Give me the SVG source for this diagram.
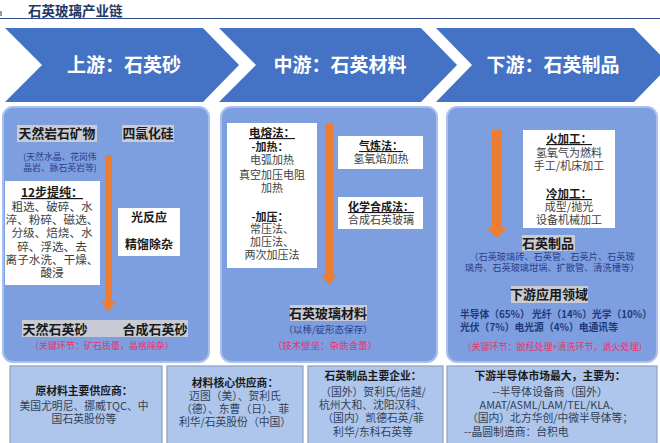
<svg xmlns="http://www.w3.org/2000/svg" width="660" height="443" viewBox="0 0 660 443">
<defs>
<style>
text{font-family:"Noto Sans CJK SC","Noto Sans",sans-serif;}
.title{font-size:13.5px;font-weight:bold;fill:#1F3864;}
.chev{fill:#4472C4;}
.chevt{font-size:19px;font-weight:bold;fill:#ffffff;text-anchor:middle;}
.panel{fill:#7D9EDF;stroke:#A9BFEC;stroke-width:2;}
.wbox{fill:#ffffff;}
.hl{fill:#C9CCD5;}
.t{font-size:11.6px;fill:#404040;text-anchor:middle;}
.t2{font-size:11px;fill:#404040;text-anchor:middle;}
.h{font-size:12px;font-weight:bold;fill:#1a1a1a;text-anchor:middle;}
.u{text-decoration:underline;}
.navy{font-size:8.8px;fill:#2B3F8C;text-anchor:middle;}
.red{font-size:9px;fill:#E8336B;text-anchor:middle;}
.list{font-size:10.5px;font-weight:bold;fill:#1F3A7A;}
.bot{fill:#AEC6EB;stroke:#8EA0BE;stroke-width:1.2;}
.bt{font-size:10.8px;fill:#333f55;text-anchor:middle;}
.btb{font-size:10.8px;font-weight:bold;fill:#1a1a1a;text-anchor:middle;}
.arrow{fill:#ED7D31;}
</style>
</defs>
<rect width="660" height="443" fill="#ffffff"/>
<g id="header">
<rect x="0" y="11" width="2" height="5" fill="#999999"/>
<text class="title" x="28" y="16">石英玻璃产业链</text>
<line x1="0" y1="18.5" x2="660" y2="18.5" stroke="#2E4A8A" stroke-width="1.2"/>
</g>
<g id="chevron-up">
<polygon class="chev" points="5,28 203,28 239,65 203,102 5,102 42,65"/>
<text class="chevt" x="124" y="72">上游：石英砂</text>
</g>
<g id="chevron-mid">
<polygon class="chev" points="219,28 421,28 457,65 421,102 219,102 256,65"/>
<text class="chevt" x="340" y="72">中游：石英材料</text>
</g>
<g id="chevron-down">
<polygon class="chev" points="436,28 634,28 670,65 634,102 436,102 472,65"/>
<text class="chevt" x="553" y="72">下游：石英制品</text>
</g>
<g id="panel-up">
<rect class="panel" x="3" y="107" width="206" height="255" rx="10"/>
<rect class="hl" x="17" y="125" width="80" height="17"/>
<text class="h" x="57" y="138" style="font-size:12.8px">天然岩石矿物</text>
<rect class="hl" x="122" y="125" width="52" height="17"/>
<text class="h" x="148" y="138" style="font-size:12.8px">四氯化硅</text>
<text class="navy" x="60" y="160">(天然水晶、花岗伟</text>
<text class="navy" x="60" y="171">晶岩、脉石英岩等)</text>
<rect class="wbox" x="5" y="181" width="95" height="104"/>
<text class="h u" x="52" y="197">12步提纯：</text>
<text class="t" x="52" y="211">粗选、破碎、水</text>
<text class="t" x="52" y="224">淬、粉碎、磁选、</text>
<text class="t" x="52" y="237">分级、焙烧、水</text>
<text class="t" x="52" y="251">碎、浮选、去</text>
<text class="t" x="52" y="264">离子水洗、干燥、</text>
<text class="t" x="52" y="277">酸浸</text>
<rect class="wbox" x="118" y="208" width="62" height="48"/>
<text class="h" x="149" y="222">光反应</text>
<text class="h" x="149" y="249">精馏除杂</text>
<rect class="hl" x="22" y="320" width="166" height="17"/>
<text class="h" x="55" y="334" style="font-size:13px">天然石英砂</text>
<text class="h" x="155" y="334" style="font-size:13px">合成石英砂</text>
<text class="red" x="102" y="349">（关键环节：矿石质量，晶格除杂）</text>
</g>
<g id="panel-mid">
<rect class="panel" x="221" y="107" width="216" height="255" rx="10"/>
<rect class="wbox" x="227" y="123" width="90" height="145"/>
<text class="h u" x="272" y="137" style="font-size:11.5px">电熔法：</text>
<text class="h" x="270" y="151" style="font-size:11px">-加热：</text>
<text class="t2" x="272" y="164">电弧加热</text>
<text class="t2" x="272" y="179">真空加压电阻</text>
<text class="t2" x="272" y="192">加热</text>
<text class="h" x="270" y="221" style="font-size:11px">-加压：</text>
<text class="t2" x="272" y="233">常压法、</text>
<text class="t2" x="272" y="246">加压法、</text>
<text class="t2" x="272" y="259">两次加压法</text>
<rect class="wbox" x="338" y="136" width="85" height="33"/>
<text class="h u" x="381" y="150" style="font-size:11px">气炼法：</text>
<text class="t2" x="381" y="163">氢氧焰加热</text>
<rect class="wbox" x="338" y="197" width="85" height="32"/>
<text class="h u" x="381" y="211" style="font-size:11px">化学合成法：</text>
<text class="t2" x="381" y="224">合成石英玻璃</text>
<rect class="hl" x="290" y="305" width="77" height="16"/>
<text class="h" x="328" y="318" style="font-size:13px">石英玻璃材料</text>
<text class="navy" x="328" y="333" style="font-size:9.5px">（以棒/锭形态保存）</text>
<text class="red" x="325" y="349" style="font-size:9.5px">（技术壁垒：杂质含量）</text>
</g>
<g id="panel-down">
<rect class="panel" x="447" y="107" width="210" height="255" rx="10"/>
<rect class="wbox" x="523" y="130" width="92" height="98"/>
<text class="h u" x="569" y="143" style="font-size:11.5px">火加工：</text>
<text class="t2" x="569" y="157">氢氧气为燃料</text>
<text class="t2" x="569" y="170">手工/机床加工</text>
<text class="h u" x="569" y="198" style="font-size:11.5px">冷加工：</text>
<text class="t2" x="569" y="211">成型/抛光</text>
<text class="t2" x="569" y="224">设备机械加工</text>
<rect class="hl" x="522" y="235" width="53" height="16"/>
<text class="h" x="548" y="248" style="font-size:13px">石英制品</text>
<text class="navy" x="552" y="260" style="font-size:9.2px">（石英玻璃砖、石英管、石英片、石英玻</text>
<text class="navy" x="552" y="271" style="font-size:9.2px">璃舟、石英玻璃坩埚、扩散管、清洗槽等）</text>
<rect class="hl" x="511" y="286" width="77" height="17"/>
<text class="h" x="549" y="299" style="font-size:13px">下游应用领域</text>
<text class="list" x="460" y="318" textLength="192" lengthAdjust="spacingAndGlyphs">半导体（65%） 光纤（14%）光学（10%）</text>
<text class="list" x="460" y="331" textLength="158" lengthAdjust="spacingAndGlyphs">光伏（7%）电光源（4%）电通讯等</text>
<text class="red" x="555" y="350">（关键环节：脱羟处理+清洗环节，退火处理）</text>
</g>
<g id="connectors">
<polygon class="arrow" points="105,155 112,155 112,301 116,301 108.5,312 101,301 105,301"/>
<polygon class="arrow" points="325,123 333,123 333,275 337,275 329,285 321,275 325,275"/>
<polygon class="arrow" points="492,130 502,130 502,228 507,228 497,238 487,228 492,228"/>
</g>
<g id="box-raw">
<rect class="bot" x="10" y="366" width="152" height="80"/>
<text class="btb" x="84" y="395">原材料主要供应商：</text>
<text class="bt" x="84" y="410">美国尤明尼、挪威TQC、中</text>
<text class="bt" x="84" y="423">国石英股份等</text>
</g>
<g id="box-material">
<rect class="bot" x="167" y="366" width="136" height="80"/>
<text class="btb" x="235" y="387">材料核心供应商：</text>
<text class="bt" x="235" y="400">迈图（美）、贺利氏</text>
<text class="bt" x="235" y="413">（德）、东曹（日）、菲</text>
<text class="bt" x="235" y="426">利华/石英股份（中国）</text>
</g>
<g id="box-product">
<rect class="bot" x="308" y="366" width="135" height="80"/>
<text class="btb" x="373" y="380">石英制品主要企业：</text>
<text class="bt" x="373" y="396">（国外）贺利氏/信越/</text>
<text class="bt" x="373" y="409">杭州大和、沈阳汉科、</text>
<text class="bt" x="373" y="422">（国内）凯德石英/菲</text>
<text class="bt" x="373" y="436">利华/东科石英等</text>
</g>
<g id="box-downstream">
<rect class="bot" x="447" y="366" width="210" height="80"/>
<text class="btb" x="550" y="380">下游半导体市场最大，主要为：</text>
<text class="bt" x="550" y="396">--半导体设备商（国外）</text>
<text class="bt" x="550" y="409">AMAT/ASML/LAM/TEL/KLA、</text>
<text class="bt" x="550" y="422">（国内）北方华创/中微半导体等；</text>
<text class="bt" x="464" y="436" style="text-anchor:start">--晶圆制造商：台积电</text>
</g>
</svg>
